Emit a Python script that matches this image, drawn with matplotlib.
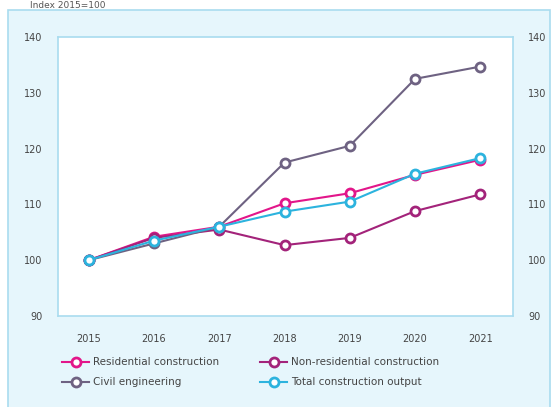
import matplotlib.pyplot as plt
from matplotlib.patches import Rectangle

plt.rcParams['font.family'] = ['Liberation Sans Narrow', 'DejaVu Sans']

# Data (index 2015=100)
years = [2015, 2016, 2017, 2018, 2019, 2020, 2021]
residential = [100, 104.2, 106.0, 110.2, 112.0, 115.3, 118.0]
non_residential = [100, 104.0, 105.5, 102.7, 104.0, 108.8, 111.8]
civil_eng = [100, 103.0, 106.0, 117.5, 120.5, 132.5, 134.7]
total_output = [100, 103.5, 106.0, 108.7, 110.5, 115.5, 118.3]

series = [
    ('Residential construction', residential, '#e2168a'),
    ('Non-residential construction', non_residential, '#a3237a'),
    ('Civil engineering', civil_eng, '#6e6282'),
    ('Total construction output', total_output, '#2cb3de'),
]

W, H = 557, 407
fig = plt.figure(figsize=(W / 100, H / 100), dpi=100)
fig.patch.set_facecolor('white')

# outer light blue panel
panel = Rectangle((8 / W, -0.01), (550 - 8) / W, (H - 10) / H + 0.01, transform=fig.transFigure,
                  facecolor='#e6f6fc', edgecolor='#a9dcef', linewidth=1.2, zorder=-5)
fig.patches.append(panel)

fig.text(30 / W, 1 - 5 / H, 'Index 2015=100', fontsize=6.5, color='#555555', va='center')

ax = fig.add_axes([58 / W, (H - 316) / H, (513 - 58) / W, (316 - 37) / H])
ax.set_zorder(2)
ax.set_facecolor('white')

handles = {}
for label, vals, col in series:
    h, = ax.plot(years, vals, color=col, linewidth=1.5, marker='o', markersize=6.5,
                 markerfacecolor='white', markeredgecolor=col, markeredgewidth=2, label=label)
    handles[label] = h

ax.set_xlim(2014.53, 2021.5)
ax.set_ylim(90, 140)
ax.set_yticks([90, 100, 110, 120, 130, 140])
ax.set_xticks(years)
ax.tick_params(length=0, labelsize=7, colors='#444444')
ax.tick_params(axis='x', pad=13)
ax.tick_params(axis='y', pad=11)
ax.tick_params(labelright=True)
for s in ax.spines.values():
    s.set_color('#a9dcef')
    s.set_linewidth(1.2)

# legend rows: Residential / Non-residential, then Civil / Total
order = ['Residential construction', 'Civil engineering',
         'Non-residential construction', 'Total construction output']
leg = fig.legend([handles[k] for k in order], order, loc='upper left',
                 bbox_to_anchor=(53 / W, (H - 348) / H), ncol=2,
                 frameon=False, fontsize=7.5, handlelength=2.6, columnspacing=4,
                 labelspacing=0.95, handletextpad=0.3)
for t in leg.get_texts():
    t.set_color('#444444')

fig.savefig('out.png', dpi=100)
